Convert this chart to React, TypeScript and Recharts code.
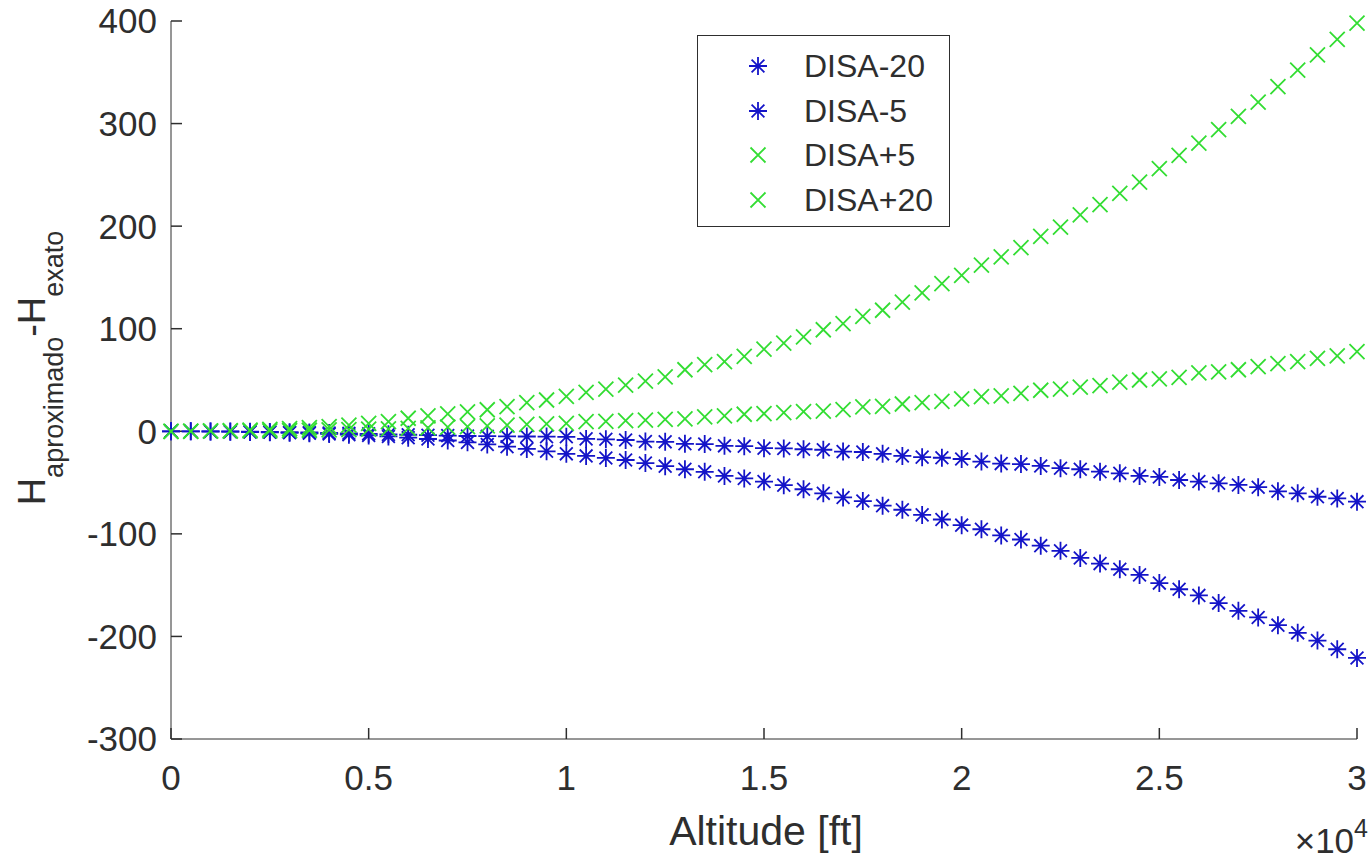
import { ScatterChart, Scatter, XAxis, YAxis, Legend } from "recharts";

const AX = "#2e2e2e", BLUE = "#1414c8", GREEN = "#33dd33";
const FONT = "'Liberation Sans', Arial, Helvetica, sans-serif";

// altitude [ft]
const ALT = [
  0, 500, 1000, 1500, 2000, 2500, 3000, 3500, 4000, 4500,
  5000, 5500, 6000, 6500, 7000, 7500, 8000, 8500, 9000, 9500,
  10000, 10500, 11000, 11500, 12000, 12500, 13000, 13500, 14000, 14500,
  15000, 15500, 16000, 16500, 17000, 17500, 18000, 18500, 19000, 19500,
  20000, 20500, 21000, 21500, 22000, 22500, 23000, 23500, 24000, 24500,
  25000, 25500, 26000, 26500, 27000, 27500, 28000, 28500, 29000, 29500, 30000,
];

// H_aproximado - H_exato
const DISA_M20 = [
  0, -0.05, -0.2, -0.4, -0.7, -1.0, -1.5, -2.0, -2.6, -3.3,
  -4, -5, -6.2, -7.5, -9, -10.8, -12.8, -15, -17.2, -19.5,
  -22, -24, -26, -28, -31, -34, -37, -39.5, -43.5, -46,
  -49, -52.5, -56.5, -60.5, -64.5, -68, -72.5, -76.5, -81.5, -86,
  -91.5, -95.5, -101.5, -105.5, -111.5, -116.5, -123.5, -129, -134.5, -140,
  -148, -154, -160, -167.5, -175, -181.5, -189, -196.5, -204, -212.5, -221,
];
const DISA_M5 = [
  0, 0, -0.1, -0.2, -0.4, -0.6, -0.9, -1.2, -1.6, -2.0,
  -2.5, -3, -3.4, -3.8, -4.2, -4.6, -4.8, -5, -5.1, -5.2,
  -5.4, -7.4, -7.8, -8.5, -10, -10.3, -12.2, -12.5, -14.2, -14.5,
  -16.5, -16.7, -17.5, -18, -19.8, -20.2, -22, -24, -25.2, -25.8,
  -27, -29.5, -31.5, -32, -33.8, -36, -37, -39.4, -41, -43.5,
  -44.5, -47.5, -49, -50.7, -52.3, -54.5, -58.5, -60.5, -63.8, -65.5, -68.6,
];
const DISA_P5 = [
  0, 0, 0.1, 0.2, 0.3, 0.5, 0.7, 1.0, 1.3, 1.6,
  2, 2.4, 2.9, 3.4, 4, 4.5, 5.2, 6, 6.7, 7.3,
  7.8, 9.4, 9.6, 10.4, 10.8, 11.7, 12.2, 14, 15, 16.6,
  17.2, 18.2, 19.2, 19.6, 21.2, 23.8, 24.2, 26.6, 28, 29.2,
  31.5, 33.8, 34.5, 37, 40, 41, 43, 44.5, 48, 50,
  51, 52.5, 57, 58, 60, 63, 66, 68, 71, 73.5, 77.6,
];
const DISA_P20 = [
  0, 0.1, 0.3, 0.7, 1.2, 1.8, 2.6, 3.5, 4.6, 6,
  7.8, 9.4, 12.7, 15, 17, 19, 21, 24, 28, 30.5,
  34, 38, 41, 45, 49, 53, 60, 65, 68, 73,
  80, 86, 92, 99, 105, 112, 118, 126, 135, 144,
  152, 162, 170, 179, 190, 199, 211, 221, 232, 243,
  256, 269, 281, 294, 307, 321, 336, 352, 367, 382, 398,
];

// the last series is tied to the top/right axes so that the box with its ticks gets drawn
const SERIES = [
  { name: "DISA-20", vals: DISA_M20, color: BLUE, mark: "star", xId: "b", yId: "l" },
  { name: "DISA-5", vals: DISA_M5, color: BLUE, mark: "star", xId: "b", yId: "l" },
  { name: "DISA+5", vals: DISA_P5, color: GREEN, mark: "x", xId: "b", yId: "l" },
  { name: "DISA+20", vals: DISA_P20, color: GREEN, mark: "x", xId: "t", yId: "r" },
];

const X_TICKS = [0, 5000, 10000, 15000, 20000, 25000, 30000];
const Y_TICKS = [-300, -200, -100, 0, 100, 200, 300, 400];

function mark(kind: string, cx: number, cy: number, color: string) {
  const d = kind === "star"
    ? `M${cx - 9},${cy}h18M${cx},${cy - 9}v18M${cx - 6.4},${cy - 6.4}l12.8,12.8M${cx - 6.4},${cy + 6.4}l12.8,-12.8`
    : `M${cx - 7.5},${cy - 7.5}l15,15M${cx - 7.5},${cy + 7.5}l15,-15`;
  return <path d={d} stroke={color} strokeWidth={1.8} fill="none" />;
}

function Key() {
  return (
    <div style={{ width: 253, height: 192, boxSizing: "border-box", border: "1px solid " + AX, background: "#fff", paddingTop: 8, fontFamily: FONT }}>
      {SERIES.map(s => (
        <div key={s.name} style={{ height: 44.5, display: "flex", alignItems: "center" }}>
          <svg width={20} height={20} style={{ marginLeft: 50 }}>{mark(s.mark, 10, 10, s.color)}</svg>
          <span style={{ marginLeft: 36, fontSize: 32, color: AX, lineHeight: 1 }}>{s.name}</span>
        </div>
      ))}
    </div>
  );
}

const xLabel = () => (
  <g fontFamily={FONT} fill={AX}>
    <text x={766} y={845} textAnchor="middle" fontSize={41}>Altitude [ft]</text>
    <text x={1368} y={853} textAnchor="end" fontSize={35}>×10<tspan dy={-16} fontSize={25}>4</tspan></text>
  </g>
);

const yLabel = () => (
  <text transform="translate(45, 368) rotate(-90)" textAnchor="middle" fontFamily={FONT} fontSize={38} fill={AX}>
    H<tspan fontSize={27} dy={18}>aproximado</tspan><tspan fontSize={38} dy={-18}>-H</tspan><tspan fontSize={27} dy={18}>exato</tspan>
  </text>
);

const tickStyle = { fontSize: 35, fill: AX, fontFamily: FONT };
// MATLAB-style ticks point into the plot: draw them outward and shift them back in
const tickIn = (dx: number, dy: number) => ({ stroke: AX, strokeWidth: 1.5, transform: `translate(${dx},${dy})` });

export default function App() {
  return (
    <div style={{ width: 1370, height: 859, background: "#fff" }}>
      <style>{`body{margin:0}`}</style>
      <ScatterChart width={1370} height={859} margin={{ top: 21, right: 13, bottom: 0, left: 0 }}>
        <XAxis xAxisId="b" dataKey="alt" type="number" domain={[0, 30000]} ticks={X_TICKS} height={120}
          tickFormatter={(v: number) => String(v / 10000)} tickSize={11} tickMargin={15}
          tickLine={tickIn(0, -11)} stroke={AX} tick={tickStyle} label={{ content: xLabel }} />
        <XAxis xAxisId="t" dataKey="alt" orientation="top" type="number" domain={[0, 30000]} ticks={X_TICKS} height={0}
          tickFormatter={() => ""} tickSize={11} tickLine={tickIn(0, 11)} stroke={AX} />
        <YAxis yAxisId="l" dataKey="v" type="number" domain={[-300, 400]} ticks={Y_TICKS} width={171}
          tickSize={11} tickMargin={3} tickLine={tickIn(11, 0)} stroke={AX} tick={tickStyle}
          label={{ content: yLabel }} />
        <YAxis yAxisId="r" dataKey="v" orientation="right" type="number" domain={[-300, 400]} ticks={Y_TICKS} width={0}
          tickFormatter={() => ""} tickSize={11} tickLine={tickIn(-11, 0)} stroke={AX} />
        {SERIES.map(s => (
          <Scatter key={s.name} name={s.name} xAxisId={s.xId} yAxisId={s.yId}
            data={ALT.map((a, i) => ({ alt: a, v: s.vals[i] }))}
            fill={s.color} isAnimationActive={false}
            shape={(p: any) => mark(s.mark, p.cx, p.cy, s.color)} />
        ))}
        <Legend layout="vertical" align="center" verticalAlign="middle" content={<Key />}
          wrapperStyle={{ left: 697, top: 35, width: 253, height: 192 }} />
      </ScatterChart>
    </div>
  );
}
